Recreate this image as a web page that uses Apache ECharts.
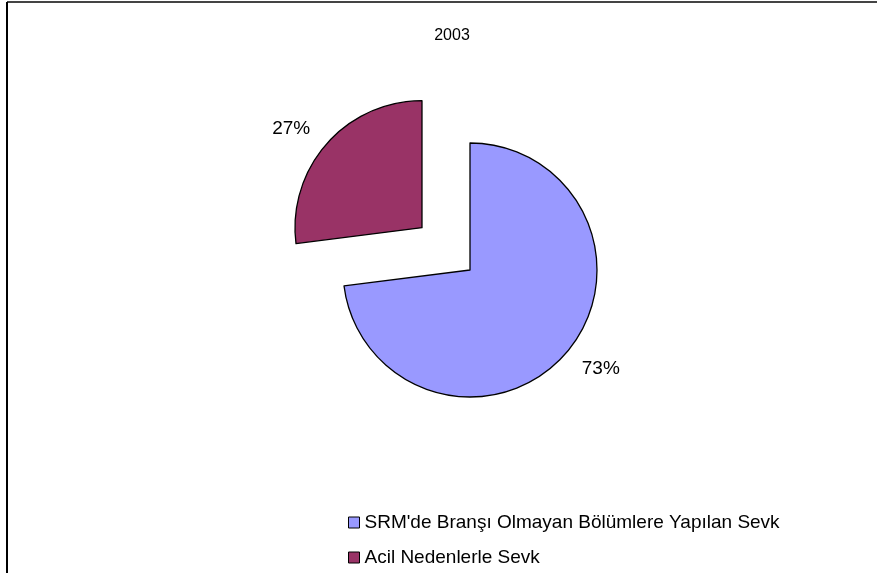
<!DOCTYPE html>
<html>
<head>
<meta charset="utf-8">
<script src="https://cdn.jsdelivr.net/npm/echarts@6/dist/echarts.min.js"></script>
<style>
  body { margin: 0; background: #fff; }
  #chart { width: 877px; height: 573px; }
</style>
</head>
<body>
<div id="chart"></div>
<script>
// data
const titleText = '2003'
const categories = ["SRM'de Branşı Olmayan Bölümlere Yapılan Sevk", 'Acil Nedenlerle Sevk']
const values = [73, 27]
const colors = ['#9999FF', '#993366']
const exploded = [false, true]

let myChart = echarts.init(document.getElementById('chart'))

let pieData = []
categories.forEach(function (name, i) {
  pieData.push({
    name: name,
    value: values[i],
    selected: exploded[i],
    itemStyle: { color: colors[i] }
  })
})

let option = {
  backgroundColor: '#fff',
  animation: false,
  textStyle: { fontFamily: 'Liberation Sans, Arial, sans-serif' },
  title: {
    text: titleText,
    left: 447,
    top: 23,
    textAlign: 'center',
    textStyle: { fontSize: 16, fontWeight: 'normal', color: '#000', fontFamily: 'Liberation Sans' }
  },
  legend: {
    orient: 'vertical',
    left: 343,
    top: 508,
    itemWidth: 11,
    itemHeight: 11,
    itemGap: 16,
    icon: 'rect',
    selectedMode: false,
    textStyle: { fontSize: 19, color: '#000', fontFamily: 'Liberation Sans' },
    itemStyle: { borderColor: '#000', borderWidth: 1 }
  },
  graphic: [
    { type: 'line', shape: { x1: 7, y1: 2, x2: 877, y2: 2 }, style: { stroke: '#444', lineWidth: 2 } },
    { type: 'line', shape: { x1: 7, y1: 2, x2: 7, y2: 573 }, style: { stroke: '#000', lineWidth: 2 } }
  ],
  series: [{
    type: 'pie',
    center: [470, 270],
    radius: 127,
    startAngle: 90,
    clockwise: true,
    selectedMode: 'multiple',
    selectedOffset: 64,
    silent: true,
    itemStyle: { borderColor: '#000', borderWidth: 1.3 },
    select: { itemStyle: { borderColor: '#000', borderWidth: 1.3 } },
    label: {
      show: true,
      position: 'outside',
      formatter: '{c}%',
      fontSize: 19,
      color: '#000',
      distanceToLabelLine: 0,
      fontFamily: 'Liberation Sans'
    },
    labelLine: { show: false, length: 22, length2: 0 },
    data: pieData
  }]
}
myChart.setOption(option)
</script>
</body>
</html>
